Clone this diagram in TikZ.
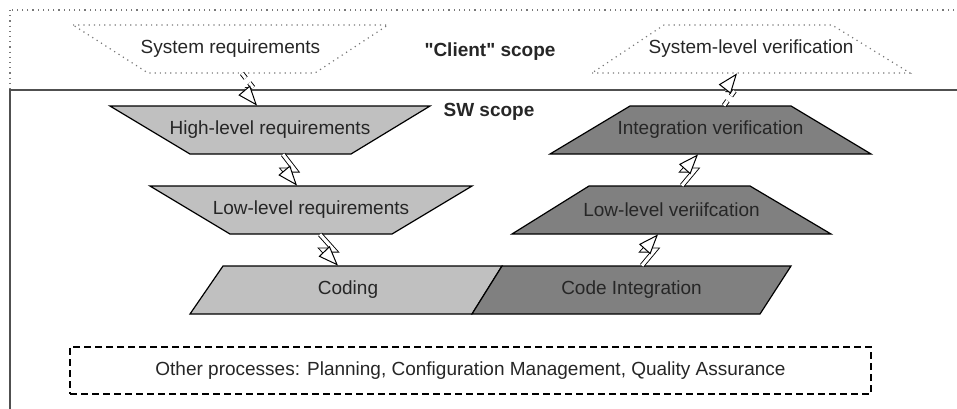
\documentclass[tikz,border=0pt]{standalone}
\usepackage{fontspec}
\setmainfont{Liberation Sans}[Ligatures=TeXOff]
\usetikzlibrary{calc,arrows.meta}
\definecolor{lightfill}{RGB}{192,192,192}
\definecolor{darkfill}{RGB}{128,128,128}
\definecolor{framegray}{RGB}{80,80,80}
\definecolor{dotgray}{RGB}{120,120,120}

\begin{document}
\begin{tikzpicture}[x=0.5pt,y=-0.5pt,
    font=\fontsize{9.5}{11}\selectfont,text=black!85,
    stagetext/.style={minimum height=24pt,inner sep=0pt},
    clientstage/.style={draw=dotgray,dotted,line width=0.6pt},
    lightstage/.style={draw,fill=lightfill,line width=0.6pt},
    darkstage/.style={draw,fill=darkfill,line width=0.6pt},
    scopelabel/.style={font=\fontsize{9.5}{11}\selectfont\bfseries},
    flash/.style={draw=black,double=white,double distance=1.6pt,line width=0.45pt,
        -{Triangle[open,fill=white,length=10pt,width=7.5pt,line width=0.5pt]},
        to path={-- ($(\tikztostart)!.5!(\tikztotarget)+(2.5pt,0)$)
            -- ($(\tikztostart)!.5!(\tikztotarget)+(-3pt,0)$) -- (\tikztotarget)}}]
\clip (0,0) rectangle (957,408);

% scopes
\draw[dotgray,dotted,line width=0.6pt] (10,10) rectangle (1000,90);
\draw[framegray,line width=1pt] (10,90) rectangle (1000,500);
\node[scopelabel] (client) at (490,52) {"Client" scope};
\node[scopelabel] (sw) at (489,112) {SW scope};

% client side
\draw[clientstage] (73,25) -- (388,25) -- (315,73) -- (148,73) -- cycle;
\node[stagetext] (sysreq) at (230.5,49) {System requirements};
\draw[clientstage] (592,73) -- (910,73) -- (832,25) -- (664,25) -- cycle;
\node[stagetext] (sysver) at (751,49) {System-level verification};

% requirements
\draw[lightstage] (110,106) -- (430,106) -- (351,154) -- (190,154) -- cycle;
\node[stagetext] (hlr) at (270,130) {High-level requirements};
\draw[lightstage] (150,186) -- (472,186) -- (392,234) -- (230,234) -- cycle;
\node[stagetext] (llr) at (311,210) {Low-level requirements};

% verification
\draw[darkstage] (550,154) -- (871,154) -- (791,106) -- (630,106) -- cycle;
\node[stagetext] (intver) at (710.5,130) {Integration verification};
\draw[darkstage] (512,234) -- (831,234) -- (750,186) -- (589,186) -- cycle;
\node[stagetext] (llver) at (671.5,210) {Low-level veriifcation};

% code
\draw[lightstage] (190,314) -- (223,266) -- (502,266) -- (472,314) -- cycle;
\node[stagetext] (coding) at (348,290) {Coding};
\draw[darkstage] (472,314) -- (502,266) -- (791,266) -- (760,314) -- cycle;
\node[stagetext] (codeint) at (631.5,290) {Code Integration};

\node[draw,dash pattern=on 3.5pt off 2pt,line width=0.6pt,minimum width=400.5pt,
    minimum height=23.5pt] (other) at (470.5,370.5)
    {Other processes: Planning, Configuration Management, Quality Assurance};

\draw[flash,dashed] ([xshift=5.75pt]sysreq.south) to ([xshift=-6.5pt]hlr.north);
\draw[flash] ([xshift=6.5pt]hlr.south) to ([xshift=-7pt]llr.north);
\draw[flash] ([xshift=4.5pt]llr.south) to ([xshift=-5pt]coding.north);
\draw[flash] ([xshift=5.25pt]codeint.north) to ([xshift=-6.75pt]llver.south);
\draw[flash] ([xshift=5.25pt]llver.north) to ([xshift=-6.25pt]intver.south);
\draw[flash,dashed] ([xshift=6.75pt]intver.north) to ([xshift=-7pt]sysver.south);
\end{tikzpicture}
\end{document}
